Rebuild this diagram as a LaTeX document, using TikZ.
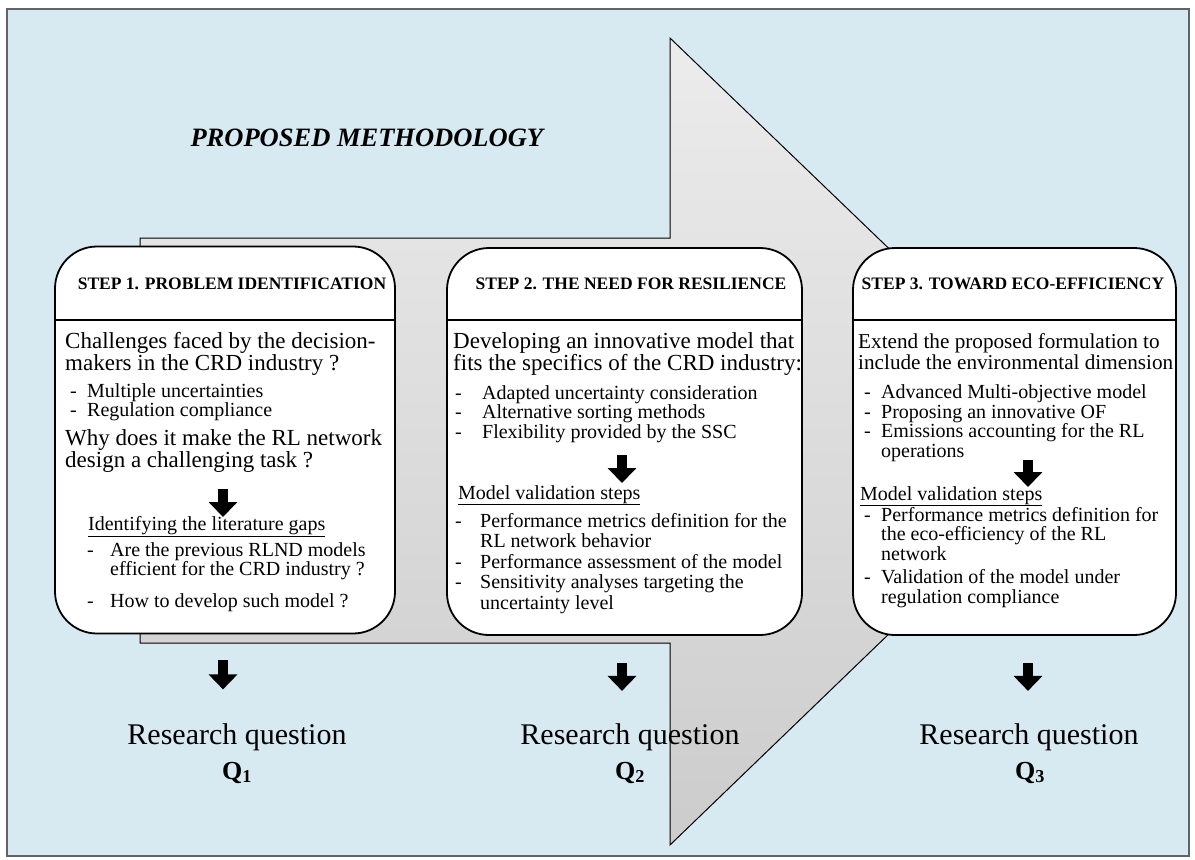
\documentclass[tikz,border=0pt]{standalone}
\usepackage{fontspec}
\setmainfont{Liberation Serif}
\usetikzlibrary{arrows.meta}
\definecolor{bgblue}{RGB}{216,234,241}
\definecolor{framegray}{RGB}{95,100,105}
\newcommand{\dsh}[1]{\makebox[#1][l]{-}}

\begin{document}
\begin{tikzpicture}[x=1pt,y=-1pt,
    stepbox/.style={draw,line width=1.8pt,fill=white,rounded corners=42pt,minimum width=#1,minimum height=387pt,inner sep=0pt},
    headtext/.style={font=\fontsize{17.5}{20}\selectfont\bfseries},
    introtext/.style={anchor=base west,inner sep=0pt,align=left,font=\fontsize{23}{21.5}\selectfont},
    listtext/.style={anchor=base west,inner sep=0pt,align=left,font=\fontsize{20}{19.5}\selectfont},
    blockarrow/.style={line width=10pt,-{Triangle[width=28pt,length=15pt]}},
    rqtext/.style={anchor=base,font=\fontsize{30}{34}\selectfont},
    qtext/.style={anchor=base,font=\fontsize{26}{30}\selectfont\bfseries}]
    \fill[white] (0,0) rectangle (1195,860);
    \draw[framegray,line width=2.5pt,fill=bgblue] (7,9) rectangle (1189,856);
    \node[anchor=base west,font=\fontsize{26.5}{30}\selectfont\bfseries\itshape] (title) at (187,146) {PROPOSED METHODOLOGY};
    \draw[line width=1pt,top color=gray!15,bottom color=gray!40] (140,238) -- (670,238) -- (670,38) -- (1089,441) -- (670,845) -- (670,643) -- (140,643) -- cycle;

    \node[stepbox=340] (s1) at (225,440) {};
    \node[stepbox=355] (s2) at (624.5,441.5) {};
    \node[stepbox=323] (s3) at (1014.5,441.5) {};
    \node[headtext] (h1) at (232,284) {STEP 1. PROBLEM IDENTIFICATION};
    \node[headtext] (h2) at (631,284) {STEP 2. THE NEED FOR RESILIENCE};
    \node[headtext] (h3) at (1013,284) {STEP 3. TOWARD ECO-EFFICIENCY};
    \draw[line width=1.4pt] (s1.west |- 0,320) -- (s1.east |- 0,320);
    \draw[line width=1.4pt] (s2.west |- 0,320) -- (s2.east |- 0,320);
    \draw[line width=1.4pt] (s3.west |- 0,320) -- (s3.east |- 0,320);

    \node[introtext] (c1) at (65,370) {Challenges faced by the decision-\\makers in the CRD industry ?};
    \node[listtext] (u1) at (70,416.5) {\dsh{17pt}Multiple uncertainties\\\dsh{17pt}Regulation compliance};
    \node[introtext] (w1) at (65,467) {Why does it make the RL network\\design a challenging task ?};
    \draw[blockarrow] (223,489) -- (223,517);
    \node[listtext] (g1) at (88,530) {\underline{Identifying the literature gaps}};
    \node[listtext] (l1) at (87,607) {\dsh{23pt}Are the previous RLND models\\\hspace*{23pt}efficient for the CRD industry ?\\[12pt]\dsh{23pt}How to develop such model ?};

    \node[introtext] (c2) at (453,370) {Developing an innovative model that\\fits the specifics of the CRD industry:};
    \node[listtext] (u2) at (455,438) {\dsh{27pt}Adapted uncertainty consideration\\\dsh{27pt}Alternative sorting methods\\\dsh{27pt}Flexibility provided by the SSC};
    \draw[blockarrow] (622,455) -- (622,483);
    \node[listtext] (m2) at (458,499) {\underline{Model validation steps}};
    \node[listtext,font=\fontsize{20}{20.5}\selectfont] (l2) at (455,609) {\dsh{25pt}Performance metrics definition for the\\\hspace*{25pt}RL network behavior\\\dsh{25pt}Performance assessment of the model\\\dsh{25pt}Sensitivity analyses targeting the\\\hspace*{25pt}uncertainty level};

    \node[introtext,font=\fontsize{21.2}{21}\selectfont] (c3) at (858,369) {Extend the proposed formulation to\\include the environmental dimension};
    \node[listtext] (u3) at (864,457) {\dsh{17pt}Advanced Multi-objective model\\\dsh{17pt}Proposing an innovative OF\\\dsh{17pt}Emissions accounting for the RL\\\hspace*{17pt}operations};
    \draw[blockarrow] (1028,460) -- (1028,487);
    \node[listtext] (m3) at (860,500) {\underline{Model validation steps}};
    \node[listtext] (l3) at (864,603) {\dsh{17pt}Performance metrics definition for\\\hspace*{17pt}the eco-efficiency of the RL\\\hspace*{17pt}network\\[4pt]\dsh{17pt}Validation of the model under\\\hspace*{17pt}regulation compliance};

    \draw[blockarrow] (s1.south) ++(-2,26) -- ++(0,29);
    \draw[blockarrow] (s2.south) ++(-2.5,27) -- ++(0,28);
    \draw[blockarrow] (s3.south) ++(13.5,27) -- ++(0,28);
    \node[rqtext] (rq1) at (237,744) {Research question};
    \node[rqtext] (rq2) at (630,744) {Research question};
    \node[rqtext] (rq3) at (1029,744) {Research question};
    \node[qtext] (q1) at (237,779) {Q\textsubscript{1}};
    \node[qtext] (q2) at (630,779) {Q\textsubscript{2}};
    \node[qtext] (q3) at (1030,779) {Q\textsubscript{3}};
\end{tikzpicture}
\end{document}
